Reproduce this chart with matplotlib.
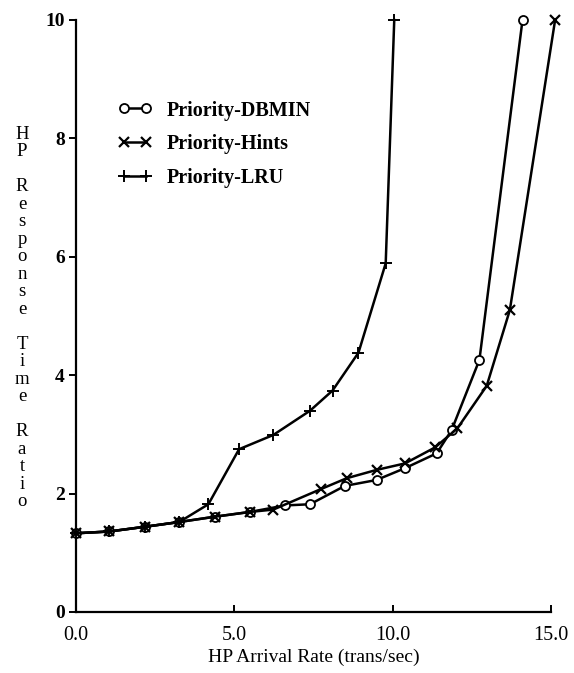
import matplotlib
matplotlib.use("Agg")
import matplotlib.pyplot as plt
from matplotlib.ticker import FixedLocator, FixedFormatter

plt.rcParams['font.family'] = ['Liberation Serif', 'DejaVu Serif']

# Data
dbmin_x = [0.0, 1.05, 2.18, 3.26, 4.39, 5.49, 6.60, 7.39, 8.49, 9.49, 10.39, 11.39, 11.86, 12.74, 14.10]
dbmin_y = [1.33, 1.36, 1.44, 1.52, 1.61, 1.69, 1.80, 1.82, 2.13, 2.23, 2.43, 2.68, 3.07, 4.26, 10.0]

hints_x = [0.0, 1.05, 2.18, 3.26, 4.39, 5.49, 6.23, 7.75, 8.55, 9.49, 10.39, 11.34, 12.04, 12.97, 13.70, 15.13]
hints_y = [1.33, 1.36, 1.44, 1.52, 1.61, 1.69, 1.73, 2.08, 2.26, 2.40, 2.51, 2.78, 3.10, 3.82, 5.10, 10.0]

lru_x = [0.0, 1.05, 2.18, 3.26, 4.18, 5.15, 6.23, 7.39, 8.10, 8.92, 9.78, 10.05]
lru_y = [1.33, 1.36, 1.44, 1.52, 1.82, 2.75, 2.99, 3.40, 3.74, 4.38, 5.89, 10.0]

x_ticks = [0, 5, 10, 15]
x_tick_labels = ["0.0", "5.0", "10.0", "15.0"]
y_ticks = [0, 2, 4, 6, 8, 10]
y_tick_labels = ["0", "2", "4", "6", "8", "10"]

series_labels = ["Priority-DBMIN", "Priority-Hints", "Priority-LRU"]

fig = plt.figure(figsize=(5.74, 6.73), dpi=100)
ax = fig.add_axes([76/574, 1 - 612/673, 475/574, 592/673])

lw = 1.8
ax.plot(dbmin_x, dbmin_y, color='black', lw=lw, marker='o', ms=6.5, mfc='white',
        mec='black', mew=1.3, label=series_labels[0], clip_on=False, zorder=3)
ax.plot(hints_x, hints_y, color='black', lw=lw, marker='x', ms=7, mew=1.6,
        label=series_labels[1], clip_on=False, zorder=3)
ax.plot(lru_x, lru_y, color='black', lw=lw, marker='+', ms=9, mew=1.4,
        label=series_labels[2], clip_on=False, zorder=3)

ax.set_xlim(0, 15)
ax.set_ylim(0, 10)

ax.spines['top'].set_visible(False)
ax.spines['right'].set_visible(False)
ax.spines['left'].set_linewidth(1.6)
ax.spines['bottom'].set_linewidth(1.6)

ax.xaxis.set_major_locator(FixedLocator(x_ticks))
ax.xaxis.set_major_formatter(FixedFormatter(x_tick_labels))
ax.yaxis.set_major_locator(FixedLocator(y_ticks))
ax.yaxis.set_major_formatter(FixedFormatter(y_tick_labels))

ax.tick_params(axis='x', direction='in', length=5, width=1.4, labelsize=14.5, pad=10)
ax.tick_params(axis='y', direction='out', length=5, width=1.4, labelsize=14, pad=3)
for t in ax.get_yticklabels():
    t.set_fontweight('bold')

ax.set_xlabel("HP Arrival Rate (trans/sec)", fontsize=14, labelpad=3)

ylabel = "H\nP\n\nR\ne\ns\np\no\nn\ns\ne\n\nT\ni\nm\ne\n\nR\na\nt\ni\no"
fig.text(22/574, 1 - 318/673, ylabel, ha='center', va='center', fontsize=13.5,
         linespacing=1.04)

leg = ax.legend(loc='upper left', bbox_to_anchor=(0.088, 0.864), frameon=False,
                prop={'weight': 'bold', 'size': 14.5}, numpoints=2,
                handlelength=1.7, handletextpad=0.75, labelspacing=0.68,
                borderpad=0, borderaxespad=0)

fig.savefig("out.png", dpi=100)
